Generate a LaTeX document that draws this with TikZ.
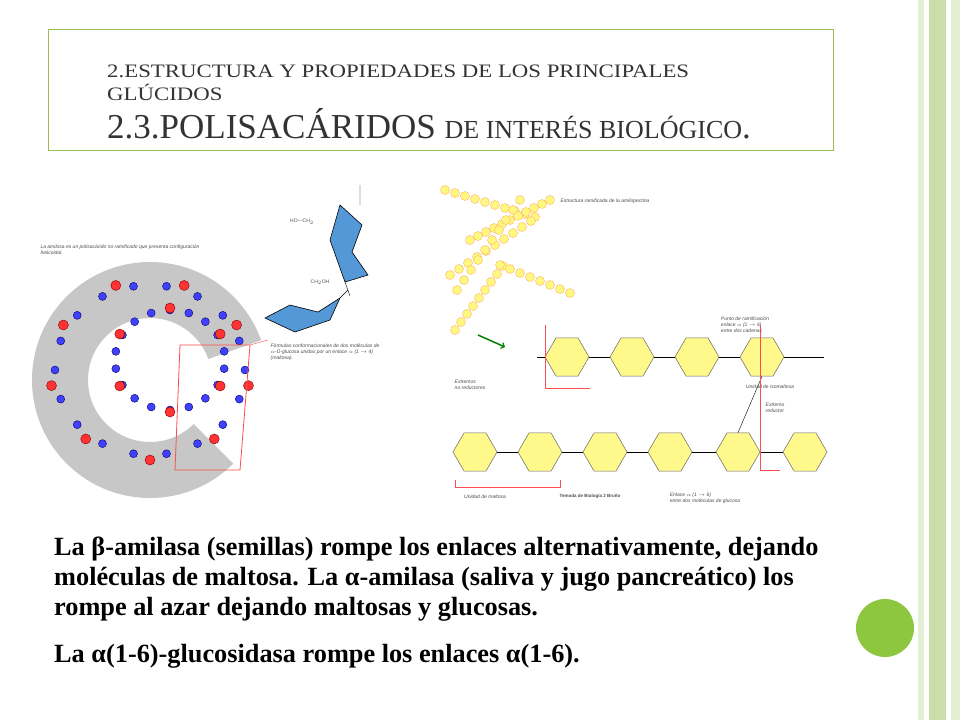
\documentclass[tikz,border=0pt]{standalone}
\usepackage{fontspec}
\setmainfont{Liberation Serif}
\newfontfamily\sansf{Liberation Sans}
\usetikzlibrary{shapes.geometric}
\definecolor{stripeA}{HTML}{E2EFD2}
\definecolor{stripeB}{HTML}{C9DEAB}
\definecolor{dotg}{HTML}{8DC63F}
\definecolor{boxg}{HTML}{9BBB59}
\begin{document}
\begin{tikzpicture}[x=1pt,y=-1pt,
  ttl/.style={anchor=base west,inner sep=0pt,text=black!80},
  body/.style={anchor=base west,inner sep=0pt,font=\fontsize{26.3}{30}\selectfont\bfseries},
  bead/.style={circle,fill=blue!75,draw=blue!40!black,line width=0.4pt,inner sep=0pt,minimum size=8pt},
  rbead/.style={circle,fill=red!80,draw=red!50!black,line width=0.4pt,inner sep=0pt,minimum size=10pt},
  hexa/.style={regular polygon,regular polygon sides=6,fill=yellow!45,draw=black!60,line width=0.5pt,minimum size=44pt,inner sep=0pt},
  ybead/.style={circle,fill=yellow!50,draw=orange!60,inner sep=0pt,minimum size=9pt},
  tiny/.style={font=\sansf\fontsize{5}{6}\selectfont\itshape,text=black!70,align=left,inner sep=0pt},
  mol/.style={fill=cyan!60!blue!70,draw=black,line width=0.6pt}]
\path[fill=white] (0,0) rectangle (960,720);
% right stripes
\fill[stripeA] (918,0) rectangle (924,720);
\fill[stripeB] (929,0) rectangle (946,720);
\fill[stripeA] (951,0) rectangle (960,720);
\node[circle,fill=dotg,minimum size=58pt,inner sep=0pt] (dot) at (885,628) {};
% title box
\node[draw=boxg,line width=0.8pt,minimum width=785pt,minimum height=121pt,anchor=north west,inner sep=0pt] (tbox) at (48,29) {};
\node[ttl,font=\fontsize{19}{20}\selectfont,xscale=1.2,transform shape] (t1) at (107,77) {2.ESTRUCTURA Y PROPIEDADES DE LOS PRINCIPALES};
\node[ttl,font=\fontsize{19}{20}\selectfont,xscale=1.2,transform shape] (t2) at (107,100) {GLÚCIDOS};
\node[ttl,font=\fontsize{35}{36}\selectfont] (t3) at (107,138) {2.3.POLISACÁRIDOS {\fontsize{26}{28}\selectfont DE INTERÉS BIOLÓGICO}.};
% ---- left image: helix
\node[tiny] (lt) at (120,250) {La amilosa es un polisacárido no ramificado que presenta configuración\\helicoidal.};
\fill[black!22,even odd rule] (150,380) circle (118) (150,380) circle (62);
\fill[white] (150,380) -- (290,330) -- (290,520) -- cycle;
\foreach \a in {0,20,...,340}{
  \node[bead] at ({150+95*cos(\a)},{370+85*sin(\a)}) {};
  \node[bead] at ({170+55*cos(\a+10)},{360+50*sin(\a+10)}) {};}
\foreach \a in {10,50,...,330}{
  \node[rbead] at ({150+100*cos(\a)},{370+90*sin(\a)}) {};}
\foreach \a in {30,90,...,330}{
  \node[rbead] at ({170+58*cos(\a)},{360+52*sin(\a)}) {};}
\draw[red!70,line width=0.8pt] (180,345) -- (250,345) -- (240,470) -- (175,470) -- cycle;
\draw[red!70] (250,345) -- (268,340);
% molecules
\draw[mol] (340,205) -- (362,225) -- (352,252) -- (368,275) -- (345,282) -- (330,240) -- cycle;
\draw[mol] (265,318) -- (290,305) -- (318,312) -- (340,298) -- (330,320) -- (295,332) -- cycle;
\node[tiny,font=\sansf\fontsize{5}{6}\selectfont] (m1) at (302,222) {HO---CH$_2$};
\node[tiny,font=\sansf\fontsize{5}{6}\selectfont] (m2) at (320,282) {CH$_2$OH};
\draw (360,185) -- (360,205) (345,282) -- (350,296) (340,298) -- (348,290);
\node[tiny] (lt2) at (325,352) {Fórmulas conformacionales de dos moléculas de\\$\alpha$-D-glucosa unidas por un enlace $\alpha$ (1 $\to$ 4)\\(maltosa).};
% ---- right image
\foreach \i in {0,...,9}{\node[ybead] at ({445+\i*10},{190+\i*3}) {};}
\foreach \i in {0,...,10}{\node[ybead] at ({470+\i*8},{240+\i*-4}) {};}
\foreach \i in {0,...,9}{\node[ybead] at ({450+\i*9},{275+\i*-6}) {};}
\foreach \i in {0,...,9}{\node[ybead] at ({520+\i*-7},{200+\i*10}) {};}
\foreach \i in {0,...,8}{\node[ybead] at ({455+\i*6},{330+\i*-8}) {};}
\foreach \i in {0,...,7}{\node[ybead] at ({500+\i*10},{265+\i*4}) {};}
\node[tiny] (rt) at (605,201) {Estructura ramificada de la amilopectina};
\draw[->,green!50!black,line width=1.5pt] (478,335) -- (505,347);
\foreach \x [count=\k] in {567,632,697,762}{\node[hexa] (a\k) at (\x,357) {};}
\foreach \x [count=\k] in {475,540,605,670,738,805}{\node[hexa] (b\k) at (\x,452) {};}
\draw (a1) -- (a2) (a2) -- (a3) (a3) -- (a4);
\foreach \i/\j in {1/2,2/3,3/4,4/5,5/6}{\draw (b\i) -- (b\j);}
\draw (a1) -- ++(-30,0);
\draw (a4.east) -- ++(40,0);
\draw (b5.north) -- (a4.south);
\node[tiny] (r1) at (470,385) {Extremos\\no reductores};
\node[tiny] (r2) at (770,387) {Unidad de isomaltosa};
\node[tiny] (r3) at (775,408) {Extremo\\reductor};
\node[tiny] (r4) at (745,325) {Punto de ramificación\\enlace $\alpha$ (1 $\to$ 6)\\entre dos cadenas};
\node[tiny] (r5) at (485,497) {Unidad de maltosa};
\node[tiny] (r6) at (705,498) {Enlace $\alpha$ (1 $\to$ 6)\\entre dos moléculas de glucosa};
\node[tiny,font=\sansf\fontsize{4.5}{5}\selectfont\bfseries] (r7) at (590,496) {Temoda de Biología 2 Bruño};
\draw[red!70] (455,480) -- (455,487) -- (560,487) -- (560,480);
\draw[red!70] (760,325) -- (760,470) -- (780,470);
\draw[red!70] (545,325) -- (545,388) -- (590,388);
% body text
\node[body] (b1l) at (54,555) {La β-amilasa (semillas) rompe los enlaces alternativamente, dejando};
\node[body] (b2l) at (54,585) {moléculas de maltosa. La α-amilasa (saliva y jugo pancreático) los};
\node[body] (b3l) at (54,615) {rompe al azar dejando maltosas y glucosas.};
\node[body] (b4l) at (54,662) {La α(1-6)-glucosidasa rompe los enlaces α(1-6).};
\end{tikzpicture}
\end{document}
